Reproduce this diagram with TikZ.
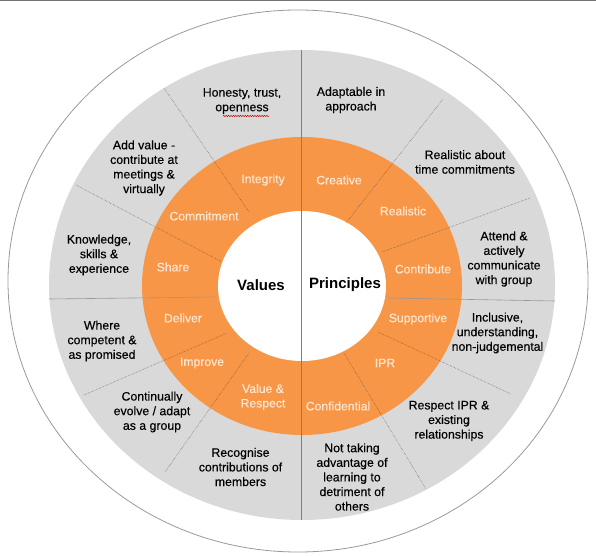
\documentclass[tikz,border=0pt]{standalone}
\usepackage{fontspec}
\setmainfont{Liberation Sans}
\newfontfamily\ringfont{Liberation Sans}[FakeBold=0.6]
\newfontfamily\outerfont{Liberation Sans}[FakeBold=0.25]
\usetikzlibrary{decorations.pathmorphing}
\definecolor{ringorange}{HTML}{F79646}
\definecolor{ringtext}{HTML}{FDE6D2}
\definecolor{discgray}{HTML}{D9D9D9}
\definecolor{linegray}{HTML}{7F7F7F}
\begin{document}
\begin{tikzpicture}[x=1pt,y=-1pt,
  outertext/.style={align=center, font=\outerfont\fontsize{12.3}{14.6}\selectfont, text=black, inner sep=0pt},
  ringlabel/.style={align=center, font=\ringfont\fontsize{12.2}{14.6}\selectfont, text=ringtext, inner sep=0pt},
  centerlabel/.style={font=\fontsize{15}{18}\selectfont\bfseries, text=black, inner sep=0pt},
  divider/.style={draw=black!70, line width=0.4pt, dash pattern=on 0.5pt off 1pt},
  flatdivider/.style={draw=black!40, line width=0.6pt},
  spine/.style={draw=linegray, line width=0.9pt},
]
\useasboundingbox (0,0) rectangle (596,556);
% top border
\draw[black!55, line width=1.5pt] (0,0.75) -- (596,0.75);
% outer ring and discs
\draw[black!40, line width=0.8pt] (298,281) ellipse [x radius=290, y radius=271];
\fill[discgray] (302,285) ellipse [x radius=253, y radius=235];
\fill[ringorange] (302,286) ellipse [x radius=160, y radius=149];
\fill[white] (302,286) ellipse [x radius=84, y radius=75];
% dividers, values side
\coordinate (a1) at (164,88);  \coordinate (a2) at (249,212);
\coordinate (b1) at (76,185);  \coordinate (b2) at (222,262);
\coordinate (c1) at (49,299);  \coordinate (c2) at (216,297);
\coordinate (d1) at (84,395);  \coordinate (d2) at (227,333);
\coordinate (e1) at (165,472); \coordinate (e2) at (249,353);
% dividers, principles side
\coordinate (f1) at (443,99);  \coordinate (f2) at (346,223);
\coordinate (g1) at (530,198); \coordinate (g2) at (382,252);
\coordinate (h1) at (388,298); \coordinate (h2) at (555,301);
\coordinate (i1) at (378,332); \coordinate (i2) at (511,394);
\coordinate (j1) at (344,353); \coordinate (j2) at (426,489);
\draw[divider] (a1) -- (a2);
\draw[divider] (b1) -- (b2);
\draw[flatdivider] (c1) -- (c2);
\draw[divider] (d1) -- (d2);
\draw[divider] (e1) -- (e2);
\draw[divider] (f1) -- (f2);
\draw[divider] (g1) -- (g2);
\draw[flatdivider] (h1) -- (h2);
\draw[divider] (i1) -- (i2);
\draw[divider] (j1) -- (j2);
% vertical spine
\coordinate (top) at (301,50);
\coordinate (bot) at (301,520);
\draw[spine] (top) -- (bot);
% centre labels
\node[centerlabel] (values) at (261,285) {Values};
\node[centerlabel] (principles) at (345,285) {Principles};
% ring labels
\node[ringlabel] (integrity) at (263,180) {Integrity};
\node[ringlabel] (commitment) at (204,216) {Commitment};
\node[ringlabel] (share) at (173,267) {Share};
\node[ringlabel] (deliver) at (183,318) {Deliver};
\node[ringlabel] (improve) at (202,363) {Improve};
\node[ringlabel] (valuerespect) at (263,397) {Value \&\\Respect};
\node[ringlabel] (creative) at (339,180) {Creative};
\node[ringlabel] (realistic) at (403,211) {Realistic};
\node[ringlabel] (contribute) at (423,269) {Contribute};
\node[ringlabel] (supportive) at (418,319) {Supportive};
\node[ringlabel] (ipr) at (385,363) {IPR};
\node[ringlabel] (confidential) at (338,406) {Confidential};
% outer labels
\node[outertext] (honesty) at (242,101) {Honesty, trust,\\openness};
\node[outertext] (addvalue) at (144,168) {Add value -\\contribute at\\meetings \&\\virtually};
\node[outertext] (knowledge) at (99,255) {Knowledge,\\skills \&\\experience};
\node[outertext] (where) at (102,341) {Where\\competent \&\\as promised};
\node[outertext] (continually) at (152,412) {Continually\\evolve / adapt\\as a group};
\node[outertext] (recognise) at (240.5,467) {Recognise\\contributions of\\members};
\node[outertext] (nottaking) at (352,477) {Not taking\\advantage of\\learning to\\detriment of\\others};
\node[outertext] (respectipr) at (449,421) {Respect IPR \&\\existing\\relationships};
\node[outertext] (inclusive) at (497.5,333) {Inclusive,\\understanding,\\non-judgemental};
\node[outertext] (attend) at (504,259) {Attend \&\\actively\\communicate\\with group};
\node[outertext] (realabout) at (465,162) {Realistic about\\time commitments};
\node[outertext] (adaptable) at (351,100) {Adaptable in\\approach};
% spell-check squiggle under "openness"
\coordinate (sq1) at (223,116);
\coordinate (sq2) at (269,116);
\draw[red!80!black, line width=0.45pt, decorate, decoration={snake, amplitude=0.7pt, segment length=2.4pt}] (sq1) -- (sq2);
\end{tikzpicture}
\end{document}
